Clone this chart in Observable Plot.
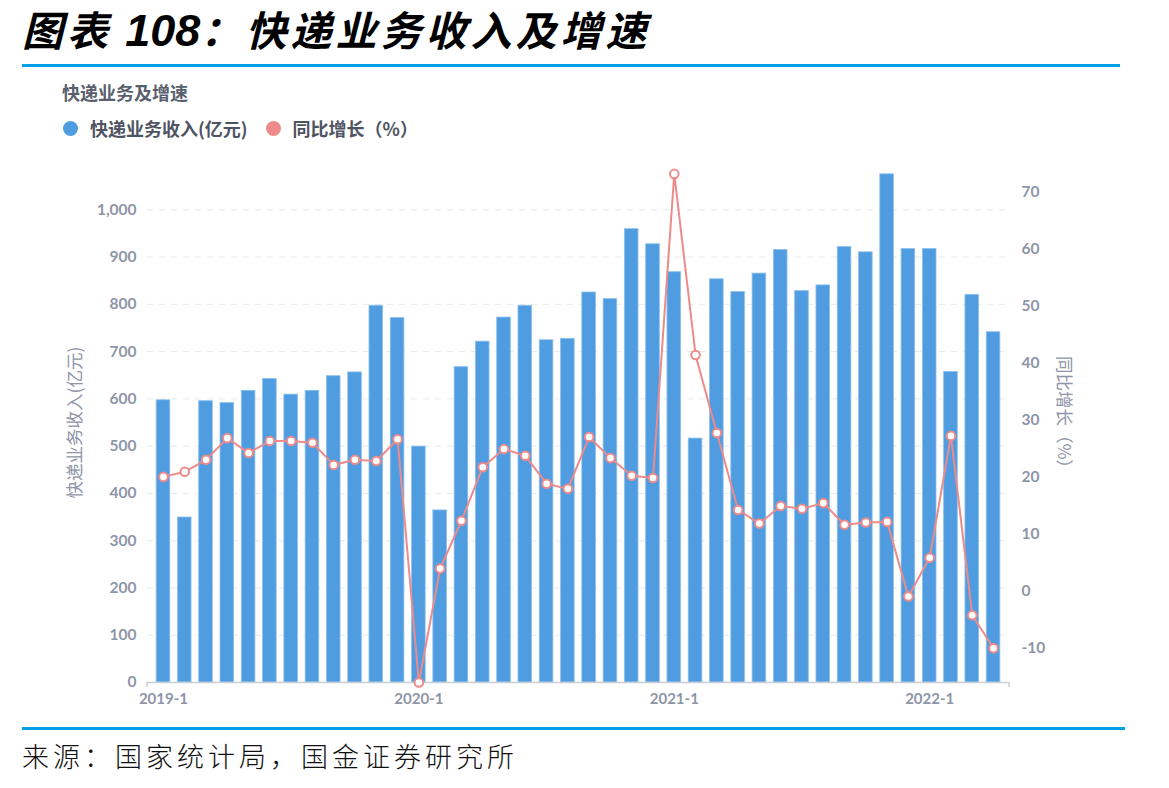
<!DOCTYPE html>
<html>
<head>
<meta charset="utf-8">
<script src="https://cdn.jsdelivr.net/npm/d3@7"></script>
<script src="https://cdn.jsdelivr.net/npm/@observablehq/plot@0.6"></script>
<style>
  html, body { margin: 0; padding: 0; background: #fff; }
  body { width: 1169px; height: 788px; position: relative; overflow: hidden; font-family: Lato, "Noto Sans CJK SC", sans-serif; }
  .title { position: absolute; left: 22px; top: 2px; font-family: "Noto Sans CJK SC", sans-serif; font-weight: 700; font-style: italic; font-size: 41px; letter-spacing: 4px; color: #000; white-space: nowrap; line-height: 52px; }
  .title .num { font-family: "Liberation Sans", Arial, sans-serif; font-size: 45px; letter-spacing: 0; }
  .rule { position: absolute; left: 22px; height: 3px; background: #00a0e9; }
  .sub { position: absolute; left: 62px; top: 79px; font-family: "Noto Sans CJK SC", sans-serif; font-size: 18px; font-weight: 700; color: #5a5f6e; line-height: 26px; }
  .legend { position: absolute; left: 63px; top: 115px; display: flex; align-items: center; font-family: "Noto Sans CJK SC", sans-serif; font-size: 18px; font-weight: 700; color: #4f5462; line-height: 26px; }
  .legend .sw { width: 15px; height: 15px; border-radius: 50%; display: inline-block; margin-right: 12px; }
  .legend .item { display: flex; align-items: center; margin-right: 18px; }
  .source { position: absolute; left: 22px; top: 736px; font-family: "Noto Sans CJK SC", sans-serif; font-weight: 300; font-size: 27px; letter-spacing: 4px; color: #111; white-space: nowrap; }
  #chart { position: absolute; left: 0; top: 150px; }
</style>
</head>
<body>
<div class="title">图表 <span class="num">108</span>：快递业务收入及增速</div>
<div class="rule" style="top:64px; width:1098px;"></div>
<div class="sub">快递业务及增速</div>
<div class="legend">
  <span class="item"><span class="sw" style="background:#4f9de0"></span>快递业务收入(亿元)</span>
  <span class="item"><span class="sw" style="background:#ee8a8a"></span>同比增长（%）</span>
</div>
<div id="chart"></div>
<div class="rule" style="top:727px; width:1103px;"></div>
<div class="source">来源：国家统计局，国金证券研究所</div>

<script>
// Monthly categories, 2019-1 through 2022-4
const months = [
  "2019-1","2019-2","2019-3","2019-4","2019-5","2019-6","2019-7","2019-8","2019-9","2019-10","2019-11","2019-12",
  "2020-1","2020-2","2020-3","2020-4","2020-5","2020-6","2020-7","2020-8","2020-9","2020-10","2020-11","2020-12",
  "2021-1","2021-2","2021-3","2021-4","2021-5","2021-6","2021-7","2021-8","2021-9","2021-10","2021-11","2021-12",
  "2022-1","2022-2","2022-3","2022-4"
];

// Express delivery revenue (100 million yuan)
const revenue = [
  597, 349, 595, 591, 617, 642, 609, 617, 648, 656, 797, 771,
  499, 364, 667, 721, 772, 797, 724, 727, 825, 811, 959, 927,
  868, 516, 853, 826, 865, 915, 828, 840, 921, 910, 1075, 917,
  917, 657, 820, 741
];

// Year-on-year growth (%)
const growth = [
  20.0, 20.9, 23.0, 26.8, 24.2, 26.3, 26.3, 26.0, 22.1, 23.0, 22.8, 26.6,
  -16.1, 3.9, 12.3, 21.7, 24.9, 23.7, 18.8, 17.9, 27.0, 23.3, 20.2, 19.8,
  73.2, 41.4, 27.7, 14.2, 11.8, 14.9, 14.4, 15.4, 11.6, 12.0, 12.1, -1.0,
  5.8, 27.2, -4.3, -10.1
];

const leftTicks = [0, 100, 200, 300, 400, 500, 600, 700, 800, 900, 1000];
const rightTicks = [-10, 0, 10, 20, 30, 40, 50, 60, 70];
const yearTicks = ["2019-1", "2020-1", "2021-1", "2022-1"];

// Both axes share one vertical scale: left domain [0, 1100] ↔ right domain [-16.1, 75.2]
const leftMax = 1100;
const rightMin = -16.1, rightMax = 75.2;
const toLeft = p => (p - rightMin) / (rightMax - rightMin) * leftMax;

const table = months.map((m, i) => ({month: m, revenue: revenue[i], growth: growth[i], g: toLeft(growth[i])}));

const axisColor = "#8e95a8";
const barColor = "#4f9de0";
const lineColor = "#ee8a8a";
const cjk = "'Noto Sans CJK SC', sans-serif";

const chart = Plot.plot({
  width: 1169,
  height: 570,
  marginLeft: 147,
  marginRight: 160,
  marginTop: 12,
  marginBottom: 38,
  style: {fontFamily: "Lato, 'Noto Sans CJK SC', sans-serif", fontSize: "15px", fontWeight: 700, color: axisColor, background: "#fff"},
  x: {type: "band", domain: months, paddingInner: 0.36, paddingOuter: 0.43, round: false, axis: null},
  y: {domain: [0, leftMax], axis: null},
  marks: [
    Plot.gridY(leftTicks.filter(d => d > 0), {stroke: "#e6e8ee", strokeOpacity: 1, strokeDasharray: "6,6"}),
    Plot.barY(table, {x: "month", y: "revenue", fill: barColor, stroke: "#8cc0ee", strokeWidth: 0.8}),
    Plot.ruleY([0], {stroke: "#c9cdd5", strokeWidth: 1.5}),
    Plot.axisY({anchor: "left", ticks: leftTicks, tickSize: 0, tickPadding: 11, tickFormat: d3.format(","), label: null, fill: axisColor, fontSize: 15.5}),
    Plot.axisY({anchor: "right", ticks: rightTicks.map(toLeft), tickSize: 0, tickPadding: 12,
      tickFormat: v => String(Math.round(v / leftMax * (rightMax - rightMin) + rightMin)), label: null, fill: axisColor, fontSize: 15.5}),
    Plot.axisX({ticks: yearTicks, tickSize: 0, tickPadding: 11, label: null, fill: axisColor, fontSize: 15}),
    Plot.line(table, {x: "month", y: "g", stroke: lineColor, strokeWidth: 2}),
    Plot.dot(table, {x: "month", y: "g", r: 4.3, fill: "#fff", stroke: lineColor, strokeWidth: 2}),
    Plot.text(["快递业务收入(亿元)"], {frameAnchor: "left", textAnchor: "middle", dx: -72, rotate: -90, fill: axisColor, fontSize: 17.5, fontWeight: 400, fontFamily: cjk}),
    Plot.text(["同比增长（%）"], {frameAnchor: "right", textAnchor: "middle", dx: 54, dy: -6, rotate: 90, fill: axisColor, fontSize: 17.5, fontWeight: 400, fontFamily: cjk})
  ]
});

// small end ticks on the category axis baseline
const [x0, x1] = chart.scale("x").range;
const yb = chart.scale("y").apply(0);
const svg = d3.select(chart);
[x0, x1].forEach(x => {
  svg.append("line").attr("x1", x).attr("x2", x).attr("y1", yb).attr("y2", yb + 5)
    .attr("stroke", "#c9cdd5").attr("stroke-width", 1.5);
});

document.getElementById("chart").appendChild(chart);
</script>
</body>
</html>
